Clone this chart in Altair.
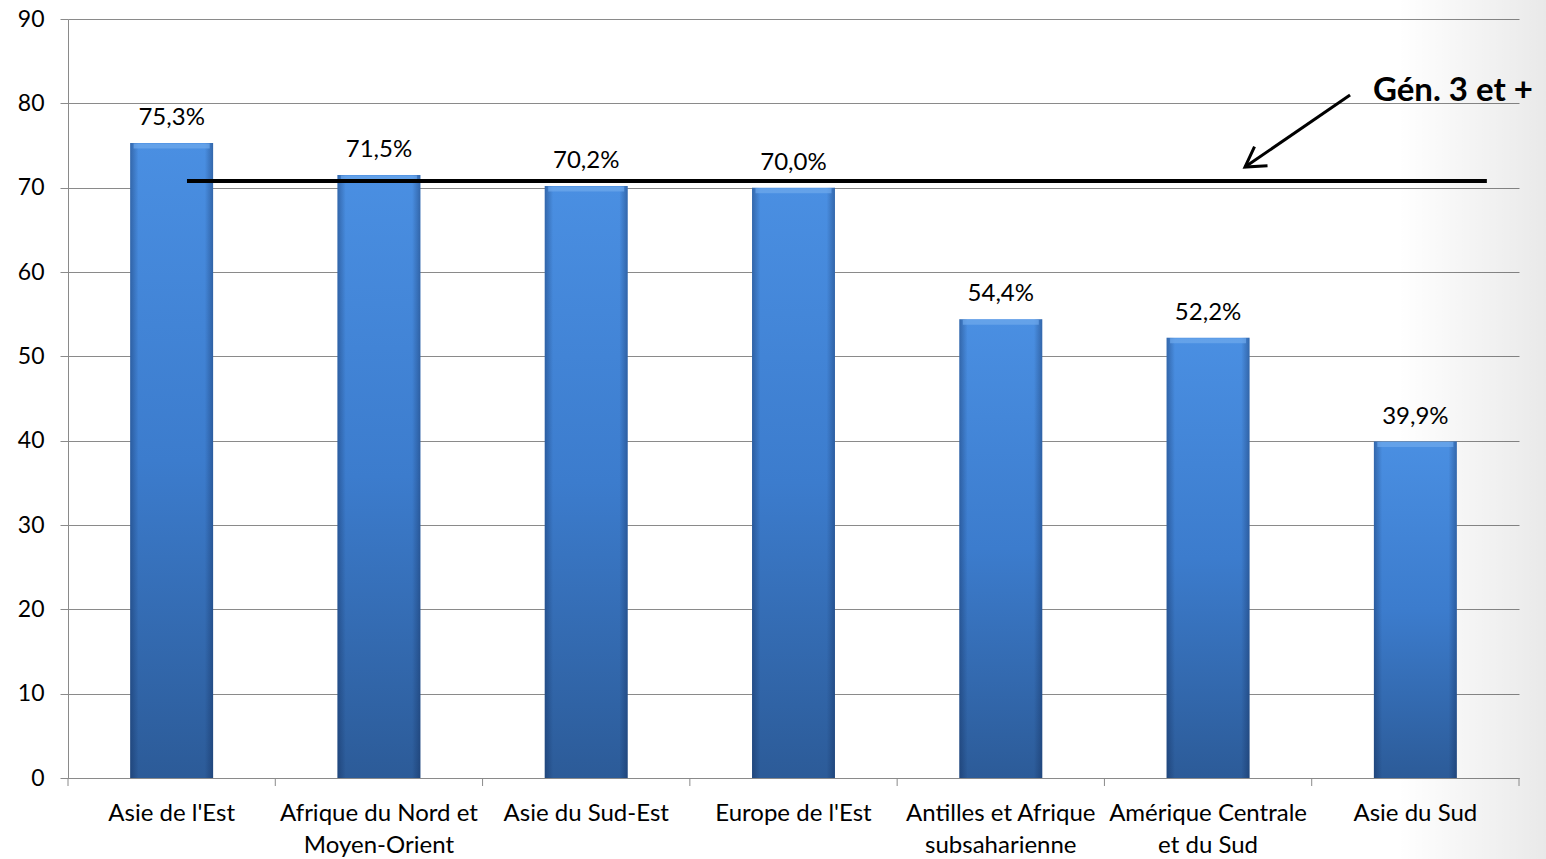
import altair as alt
import pandas as pd

# Share by region of origin (%)
regions = [
    "Asie de l'Est",
    "Afrique du Nord et\nMoyen-Orient",
    "Asie du Sud-Est",
    "Europe de l'Est",
    "Antilles et Afrique\nsubsaharienne",
    "Amérique Centrale\net du Sud",
    "Asie du Sud",
]
shares = [75.3, 71.5, 70.2, 70.0, 54.4, 52.2, 39.9]

# Reference level for the third+ generation, drawn as a horizontal line
gen3_label = ["Gén. 3 et +"]
gen3_level = [70.8]
gen3_start = [0.574]
gen3_end = [6.845]

# Arrow pointing from the label to the reference line (position units: 0..7 across the plot)
arrow_from_x = [6.185]
arrow_from_y = [81.0]
arrow_to_x = [5.678]
arrow_to_y = [72.45]
label_x = [7.067]
label_y = [80.3]

# Category boundaries, where the x-axis tick marks sit
boundaries = list(range(len(regions) + 1))

FONT = "Lato"
GRID = "#8a8a8a"
PLOT_W, PLOT_H = 1451, 759

bars_df = pd.DataFrame({
    "region": regions,
    "share": shares,
    "label": [f"{v:.1f}".replace(".", ",") + "%" for v in shares],
})
line_df = pd.DataFrame({"start": gen3_start, "end": gen3_end, "level": gen3_level})
arrow_df = pd.DataFrame({"x": arrow_from_x, "y": arrow_from_y, "x2": arrow_to_x, "y2": arrow_to_y})
head_df = pd.DataFrame({"x": arrow_to_x, "y": arrow_to_y})
text_df = pd.DataFrame({"x": label_x, "y": label_y, "t": gen3_label})
tick_df = pd.DataFrame({"b": boundaries})

y_scale = alt.Scale(domain=[0, 90], nice=False, zero=True)
pos_scale = alt.Scale(domain=[0, len(regions)], nice=False, zero=False)

x_enc = alt.X(
    "region:N",
    sort=regions,
    scale=alt.Scale(paddingInner=0.6, paddingOuter=0.3),
    axis=alt.Axis(
        title=None,
        labelAngle=0,
        labelExpr="split(datum.label, '\\n')",
        labelFont=FONT,
        labelFontSize=24,
        labelColor="#000000",
        labelLineHeight=32,
        labelPadding=15,
        labelLimit=0,
        ticks=True,
        tickSize=8,
        tickOpacity=0,
        domainColor=GRID,
        grid=False,
    ),
)
y_enc = alt.Y(
    "share:Q",
    scale=y_scale,
    axis=alt.Axis(
        title=None,
        values=list(range(0, 91, 10)),
        grid=True,
        gridColor=GRID,
        gridWidth=1,
        domainColor=GRID,
        tickColor=GRID,
        tickSize=8,
        labelFont=FONT,
        labelFontSize=23,
        labelColor="#000000",
        labelPadding=16,
    ),
)

body_fill = alt.Gradient(
    gradient="linear",
    x1=0, x2=0, y1=0, y2=1,
    stops=[
        alt.GradientStop(color="#4a8fe2", offset=0),
        alt.GradientStop(color="#3c7ccd", offset=0.5),
        alt.GradientStop(color="#2c5b98", offset=1),
    ],
)
side_shade = alt.Gradient(
    gradient="linear",
    x1=0, x2=1, y1=0, y2=0,
    stops=[
        alt.GradientStop(color="rgba(10,30,70,0.35)", offset=0),
        alt.GradientStop(color="rgba(10,30,70,0)", offset=0.1),
        alt.GradientStop(color="rgba(10,30,70,0)", offset=0.9),
        alt.GradientStop(color="rgba(10,30,70,0.35)", offset=1),
    ],
)

base = alt.Chart(bars_df)
bars = base.mark_bar(color=body_fill).encode(x=x_enc, y=y_enc)
shade = base.mark_bar(color=side_shade).encode(x=alt.X("region:N", sort=regions), y=alt.Y("share:Q", scale=y_scale))
bevel = base.mark_tick(color="#6fa9ec", thickness=5, size=76, yOffset=3).encode(
    x=alt.X("region:N", sort=regions), y=alt.Y("share:Q", scale=y_scale)
)
values = base.mark_text(baseline="bottom", dy=-13, font=FONT, fontSize=24, color="#000000").encode(
    x=alt.X("region:N", sort=regions), y=alt.Y("share:Q", scale=y_scale), text="label:N"
)
bar_layer = alt.layer(bars, shade, bevel, values)

x_ticks = alt.Chart(tick_df).mark_rule(color=GRID, strokeWidth=1).encode(
    x=alt.X("b:Q", scale=pos_scale, axis=None),
    y=alt.value(PLOT_H),
    y2=alt.value(PLOT_H + 8),
)
ref_line = alt.Chart(line_df).mark_rule(color="#000000", strokeWidth=4).encode(
    x=alt.X("start:Q", scale=pos_scale, axis=None),
    x2="end:Q",
    y=alt.Y("level:Q", scale=y_scale, title=None),
)
arrow = alt.Chart(arrow_df).mark_rule(color="#000000", strokeWidth=3).encode(
    x=alt.X("x:Q", scale=pos_scale, axis=None),
    x2="x2:Q",
    y=alt.Y("y:Q", scale=y_scale, title=None),
    y2="y2:Q",
)
head = alt.Chart(head_df).mark_point(
    shape="M -1 -0.6 L 0 0 L -1 0.6",
    filled=False,
    stroke="#000000",
    strokeWidth=3,
    size=1500,
    angle=146,
    opacity=1,
).encode(
    x=alt.X("x:Q", scale=pos_scale, axis=None),
    y=alt.Y("y:Q", scale=y_scale, title=None),
)
gen3_text = alt.Chart(text_df).mark_text(
    align="right", baseline="alphabetic", font=FONT, fontSize=33, fontWeight="bold", color="#000000"
).encode(
    x=alt.X("x:Q", scale=pos_scale, axis=None),
    y=alt.Y("y:Q", scale=y_scale, title=None),
    text="t:N",
)
ann_layer = alt.layer(x_ticks, ref_line, arrow, head, gen3_text)

# soft grey shading along the right edge of the page
edge = alt.Chart(pd.DataFrame({"k": [0]})).mark_rect(
    color=alt.Gradient(
        gradient="linear",
        x1=0, x2=1, y1=0, y2=0,
        stops=[
            alt.GradientStop(color="rgba(0,0,0,0)", offset=0),
            alt.GradientStop(color="rgba(0,0,0,0.085)", offset=1),
        ],
    )
).encode(x=alt.value(1330), x2=alt.value(1478), y=alt.value(-19), y2=alt.value(840))

chart = (
    alt.layer(edge, bar_layer, ann_layer)
    .resolve_scale(x="independent")
    .properties(
        width=PLOT_W,
        height=PLOT_H,
        autosize=alt.AutoSizeParams(type="none"),
        padding={"left": 68, "top": 19, "right": 27, "bottom": 81},
        background="#ffffff",
    )
    .configure_view(strokeWidth=0)
)

chart.save("out.html", embed_options={"renderer": "svg", "actions": False})
